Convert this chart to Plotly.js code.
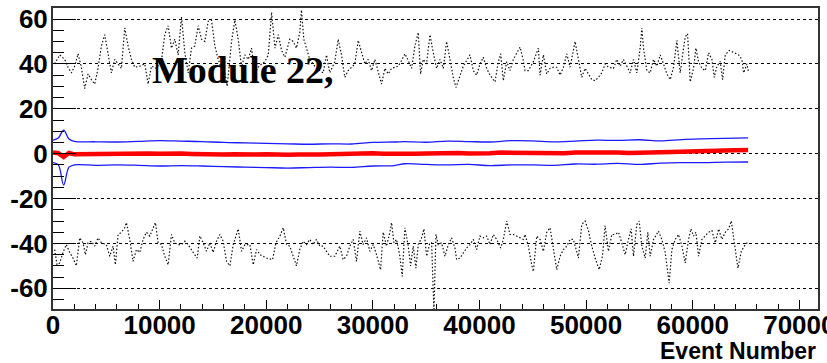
<!DOCTYPE html>
<html>
<head>
<meta charset="utf-8">
<script src="https://cdn.plot.ly/plotly-3.0.1.min.js"></script>
<style>html,body{margin:0;padding:0;background:#fff;}#chart{width:827px;height:363px;}</style>
</head>
<body>
<div id="chart"></div>
<script>
// Upper dotted series (~ +40)
const topX = [157,626,1096,1409,1722,2035,2348,2661,2974,3287,3600,3913,4226,4539,4852,5165,5478,5791,6104,6417,6730,7043,7356,7669,8138,8608,8921,9234,9703,10173,10486,10799,11112,11425,11738,12051,12364,12677,12990,13303,13616,13929,14242,14555,14868,15181,15494,15807,16120,16339,16746,17059,17372,17685,17998,18311,18624,18937,19250,19563,19876,20189,20502,20815,21128,21441,21754,
22207,22520,22833,23146,23303,23522,23772,24085,24711,25337,25650,25963,26433,26746,27059,27372,27685,27998,28311,28624,28937,29250,29563,29876,30189,30502,30815,31128,31441,31754,32067,32380,32693,33006,33319,33632,33945,34258,34477,34727,35040,35353,35666,35979,36292,36605,36918,37231,37544,37795,38170,38483,38796,39109,39422,39735,40048,40361,40674,40987,41457,41770,41989,42239,42552,42865,43178,43491,43804,44117,
44272,44585,45055,45524,45681,45994,46307,46620,46933,47246,47559,47872,48185,48498,48967,49280,49593,49906,50219,50532,50845,51158,51471,51784,52097,52567,52880,53193,53506,53819,54132,54445,54758,55071,55227,55384,55697,56010,56323,56636,56949,57262,57575,57888,58201,58514,58827,59140,59296,59515,59766,60079,60298,60548,60861,61174,61487,61800,62019,62269,62582,62802,63052,63428,63835,64304,64617,64774,65087,65243];
const topY = [40,44,42,38.5,36,39,44.5,38.5,29,35.5,33,31,38,48,53,45,36,42,40,38,56,48,42,38.5,39,40,31,39,38,41.5,53,57,47,51,44,61,45,36,47,48,57,51,50,59,59.5,48,42,38,36,30,50,59.5,51,38.5,44,42,47,36,38.5,40,41,44,63,47,53,46,43,
51,50,47,54,64,51,47,42,38,36,44,36,41,51,44,34,37,38.5,40,50.5,45,40,42,37,42,37,31,38,35.5,38,38.5,39,41.5,44.5,41.5,38,48,54,35.5,42,40,53,45,38,42,38,50,41.5,34,29.5,35,39,41.5,44,37,35,40,43,38,35,32,41,44.5,32.5,41,37,42,44.5,47.5,41.5,
37,37,41,47,35,44,35.5,38,38.5,38.5,35,38.5,44.5,38.5,50,42,34,38,35.5,33,32.5,34,36,40,38.5,38,42,39,42,39,36,42,36,47,56,47,37,36,42,39,44,40,35.5,33,38.5,50.5,36,47,52,53.5,32,38,47,41,38,37,45,42,34,39,41,33,44,46,45,44,42,36,40,36];

// Lower dotted series (~ -40)
const botX = [157,376,626,939,1252,1565,1878,2191,2504,2817,3036,3287,3600,3913,4226,4539,5008,5321,5634,5853,6104,6417,6730,6886,7199,7512,7825,8138,8451,8764,9077,9390,9609,9860,10173,10486,10799,11112,11425,11738,12051,12364,12677,13146,13522,13772,14085,14398,14711,15024,15337,15650,15963,16276,16589,16902,17215,17372,17685,17998,18467,18780,19093,19406,20032,20595,20908,21284,21597,21910,
22207,22520,22833,23146,23459,23772,24085,24398,24711,25024,25337,25650,25963,26433,26902,27215,27528,27841,28154,28467,28780,29093,29406,29719,30032,30345,30721,30971,31284,31597,31754,31973,32223,32536,32755,33006,33319,33538,33788,34038,34258,34571,34790,35040,35353,35510,35729,35916,36136,36449,36762,37075,37388,37701,37857,38170,38483,38796,39109,39422,39735,40048,40361,40674,40987,41300,41613,41989,42239,42552,42865,43178,43491,43804,44117,
44272,44585,44898,45055,45368,45681,45994,46307,46620,46933,47246,47559,47872,48185,48498,48811,49280,49593,49906,50219,50532,50845,51221,51534,51784,52097,52410,52723,53036,53349,53662,53975,54225,54445,54758,54977,55227,55540,55790,56010,56323,56792,57105,57418,57575,57794,58044,58357,58670,58983,59296,59609,59828,60079,60298,60548,60861,61174,61487,61800,62113,62426,62739,63052,63365,63616,63928,64241,64554,64930,65243];
const botY = [-42.7,-49.5,-48.7,-44,-40.5,-44,-46.5,-50,-37.5,-39.7,-45,-39.7,-39,-41.2,-37.5,-39.7,-40.5,-45.7,-41.2,-49.5,-36,-35,-33,-30.7,-38.2,-48,-42.7,-44,-38.2,-35,-36.7,-33,-30.7,-39.7,-40.5,-45.7,-49.5,-36,-39.7,-40.5,-40.5,-39,-40.5,-44,-46.5,-36.7,-39.7,-43.5,-39.7,-44,-39,-36,-39,-48,-50,-40.5,-35,-33.5,-43.5,-40.5,-40.5,-49.5,-42.7,-45,-46.5,-47.2,-39.7,-36.7,-33,-40.5,
-41.2,-45.7,-50,-42.7,-39,-40.5,-38.2,-40.5,-38.2,-41.2,-41.2,-43.5,-45.7,-45.7,-41.2,-47.2,-45.7,-41.2,-38.2,-48,-34.5,-40.5,-37.5,-43.5,-40.5,-45,-51.7,-35,-41.2,-35,-30.7,-39.7,-38.2,-45.7,-54.7,-33,-41.2,-50,-41.2,-51,-40.5,-37.5,-33.5,-45.7,-39.7,-39.7,-70,-36,-40.5,-39.7,-45.7,-40.5,-37.5,-42,-47.2,-46.5,-44,-42,-40.5,-38.2,-42.7,-36.7,-37.5,-36.7,-40.5,-36,-38.2,-42,-38.2,-30,-36,-36,-36.7,-37.5,-38.2,
-36,-41.2,-49.5,-52.5,-36.7,-38.2,-43.5,-35,-33,-42.7,-51.7,-45.7,-42.7,-41.2,-38.2,-38.2,-46.5,-31.5,-30,-34.3,-41.2,-46.5,-51.7,-45.7,-32,-43.5,-36,-36,-35,-39.7,-45,-38.2,-33.5,-45.7,-31.5,-30,-41.2,-46.5,-35,-45.7,-38.2,-34.5,-38.2,-44,-51,-57.7,-42.7,-38.2,-36,-41.2,-48.7,-38.2,-33.5,-36.7,-35,-45.7,-38.2,-36.7,-35,-34.3,-39.7,-33.5,-38.2,-35,-33.5,-30,-41.2,-51,-43.5,-40.5,-39];

// Mean (red) series
const redX = [0,500,1000,1500,2000,3000,4000,5000,6000,7000,8000,9000,10000,11000,12000,13000,14000,15000,16000,17000,18000,19000,20000,21000,22000,23000,24000,25000,26000,27000,28000,29000,30000,31000,32000,33000,34000,35000,36000,37000,38000,39000,40000,41000,42000,43000,44000,45000,46000,47000,48000,49000,50000,51000,52000,53000,54000,55000,56000,57000,58000,59000,60000,61000,62000,63000,64000,65200];
const redY = [0.5,0.2,-1.5,0.3,-0.3,-0.2,-0.4,-0.3,-0.2,-0.1,0,0.1,0,0.2,0.1,-0.1,-0.3,-0.2,-0.4,-0.3,-0.5,-0.4,-0.3,-0.6,-0.5,-0.4,-0.6,-0.4,-0.3,-0.1,-0.2,0.1,0.2,0,-0.1,0.1,0,0.1,0.3,0.2,0.3,0.1,0,0.2,0.5,0.4,0.6,0.5,0.3,0.4,0.2,0.5,0.6,0.4,0.7,0.5,0.3,0.4,0.1,0.6,0.8,1.0,1.2,1.1,1.3,1.4,1.5,1.6];

// Envelope (blue) series
const blueX = [0,500,1000,1500,2000,4000,6000,8000,10000,12000,14000,16000,18000,20000,22000,24000,26000,28000,30000,32000,33000,35000,37000,39000,41000,43000,45000,47000,49000,51000,53000,55000,57000,59000,61000,63000,65200];
const blueHiY = [6,7,10.5,6.5,5.5,5.3,5.2,5.5,5.8,5.6,5.4,5.0,4.8,4.6,4.4,4.2,4.4,4.3,5.0,5.2,5.4,5.1,5.6,5.4,5.2,5.8,5.7,5.3,5.6,6.0,5.9,6.2,5.7,6.3,6.6,6.8,7.0];
const blueLoY = [-4,-5,-14,-6,-5,-5.2,-5.0,-5.2,-5.5,-5.3,-5.5,-5.8,-6.0,-6.2,-6.4,-6.2,-6.0,-6.1,-5.5,-5.3,-4.5,-4.8,-5.0,-4.8,-5.3,-5.0,-5.0,-5.2,-4.6,-4.7,-4.3,-4.8,-4.2,-4.0,-4.0,-3.8,-3.7];

const xTickVals = [0,10000,20000,30000,40000,50000,60000,70000];
const yTickVals = [-60,-40,-20,0,20,40,60];

const dotted = {color:'#111', width:1.2, dash:'1.5px,2px'};
const traces = [
  {x: topX, y: topY, mode:'lines', line: dotted, hoverinfo:'skip'},
  {x: botX, y: botY, mode:'lines', line: dotted, hoverinfo:'skip'},
  {x: blueX, y: blueHiY, mode:'lines', line:{color:'#1a1aff', width:1.3, shape:'spline'}, hoverinfo:'skip'},
  {x: blueX, y: blueLoY, mode:'lines', line:{color:'#1a1aff', width:1.3, shape:'spline'}, hoverinfo:'skip'},
  {x: redX, y: redY, mode:'lines', line:{color:'#ff0000', width:4.5}, hoverinfo:'skip'}
];

const tickFont = {family:'Liberation Sans, Arial, sans-serif', size:26, color:'#000', weight:700};

const layout = {
  width: 827, height: 363,
  margin: {l:53, r:9, t:8, b:54, pad:0},
  paper_bgcolor:'#fff', plot_bgcolor:'#fff',
  showlegend: false,
  xaxis: {
    range: [0, 71750], tickvals: xTickVals, ticktext: xTickVals.map(String),
    ticks:'inside', ticklen:9, tickwidth:1, tickcolor:'#000',
    minor: {ticks:'inside', ticklen:5, dtick:2000, tick0:0, tickcolor:'#000', tickwidth:1, showgrid:false},
    showgrid:false, zeroline:false,
    showline:true, linecolor:'#333', linewidth:2, mirror:true,
    ticklabeloverflow:'allow', ticklabelstandoff:-8,
    tickfont: tickFont
  },
  yaxis: {
    range: [-69.2, 64.9], tickvals: yTickVals, ticktext: yTickVals.map(String),
    ticks:'inside', ticklen:23, tickwidth:1, tickcolor:'#000',
    minor: {ticks:'inside', ticklen:11, dtick:5, tick0:0, tickcolor:'#000', tickwidth:1, showgrid:false},
    showgrid:true, gridcolor:'#000', gridwidth:1, griddash:'3px,3px',
    zeroline:false,
    showline:true, linecolor:'#333', linewidth:2, mirror:true,
    ticklabelstandoff:-2,
    tickfont: tickFont
  },
  annotations: [
    {text:'Module 22,', xref:'paper', yref:'paper', x:0.127, y:0.795, xanchor:'left', yanchor:'middle',
     showarrow:false, font:{family:'Liberation Serif, Times New Roman, serif', size:38, color:'#000', weight:700}},
    {text:'Event Number', xref:'paper', yref:'paper', x:1.0, y:-0.14, xanchor:'right', yanchor:'middle',
     showarrow:false, font:{family:'Liberation Sans, Arial, sans-serif', size:23, color:'#000', weight:700}}
  ]
};

Plotly.newPlot('chart', traces, layout, {displayModeBar:false, staticPlot:true});
</script>
</body>
</html>
